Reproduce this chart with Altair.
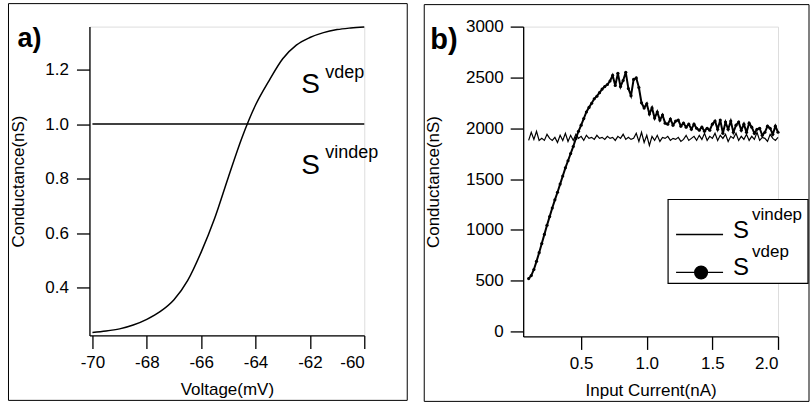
import altair as alt
import pandas as pd

# ---------------- data: panel a ----------------
voltage = [-70, -69.5, -69, -68.5, -68, -67.5, -67, -66.5, -66, -65.5, -65,
           -64.5, -64, -63.5, -63, -62.5, -62, -61.5, -61, -60.5, -60]
g_vdep_a = [0.235, 0.240, 0.248, 0.262, 0.283, 0.312, 0.355, 0.425, 0.53, 0.655, 0.805,
            0.95, 1.07, 1.16, 1.24, 1.29, 1.318, 1.336, 1.347, 1.353, 1.357]
voltage_flat = [-70, -60]
g_vindep_a = [1.0, 1.0]

# ---------------- data: panel b ----------------
current = [round(0.10 + 0.02 * i, 2) for i in range(96)]
g_vdep_b = [520, 550, 610, 690, 775, 865, 955, 1045, 1130, 1215,
            1295, 1370, 1450, 1530, 1610, 1680, 1750, 1820, 1900, 1970,
            2030, 2095, 2160, 2205, 2245, 2290, 2315, 2350, 2385, 2410,
            2430, 2465, 2520, 2420, 2540, 2410, 2470, 2550, 2390, 2320,
            2480, 2495, 2400, 2250, 2200, 2240, 2140, 2200, 2100, 2160,
            2080, 2130, 2050, 2040, 2090, 2030, 2070, 2080, 2020, 2050,
            2010, 2040, 1990, 2040, 2000, 1980, 2010, 1970, 2000, 1980,
            2040, 2070, 1990, 2080, 1950, 2060, 1990, 2070, 1960, 2030,
            2060, 1980, 2040, 1960, 2050, 2010, 1950, 1990, 2000, 1930,
            1960, 2020, 2000, 1940, 2020, 1960]
g_vindep_b = [1880, 1960, 1890, 1970, 1880, 1900, 1880, 1940, 1900, 1880,
              1910, 1860, 1930, 1880, 1950, 1870, 1930, 1880, 1940, 1900,
              1920, 1880, 1930, 1900, 1910, 1890, 1930, 1900, 1910, 1890,
              1920, 1900, 1910, 1880, 1920, 1900, 1940, 1890, 1910, 1890,
              1900, 1950, 1870, 1960, 1860, 1930, 1830, 1920, 1880, 1930,
              1870, 1910, 1900, 1920, 1880, 1900, 1890, 1910, 1870, 1890,
              1930, 1880, 1900, 1920, 1880, 1930, 1890, 1950, 1880, 1920,
              1900, 1950, 1880, 1930, 1900, 1940, 1870, 1920, 1900, 1950,
              1880, 1920, 1890, 1940, 1880, 1920, 1890, 1960, 1880, 1910,
              1900, 1870, 1940, 1900, 1880, 1910]

xticks_a = [-70, -68, -66, -64, -62, -60]
yticks_a = [0.4, 0.6, 0.8, 1.0, 1.2]
xticks_b = [0.5, 1.0, 1.5, 2.0]
yticks_b = [0, 500, 1000, 1500, 2000, 2500, 3000]

FONT = "Liberation Sans"
FS = 17

df_a = pd.DataFrame({"V": voltage, "G": g_vdep_a})
df_a2 = pd.DataFrame({"V": voltage_flat, "G": g_vindep_a})
df_b1 = pd.DataFrame({"I": current, "G": g_vdep_b})
df_b2 = pd.DataFrame({"I": current, "G": g_vindep_b})
one = pd.DataFrame({"k": [0]})

axis_common = dict(domainColor="black", domainWidth=1.3, tickColor="black", tickWidth=1.3,
                   tickSize=13, labelColor="black", titleColor="black", labelFont=FONT,
                   titleFont=FONT, labelFontSize=FS, titleFontSize=FS,
                   titleFontWeight="normal", grid=False)

# ---------------- panel a ----------------
WA, HA = 275, 309
xa = alt.X("V:Q", scale=alt.Scale(domain=[-70.11, -60], nice=False, zero=False),
           axis=alt.Axis(values=xticks_a, labelExpr="'' + datum.value", title="Voltage(mV)",
                         labelPadding=6, titlePadding=11, **axis_common))
ya = alt.Y("G:Q", scale=alt.Scale(domain=[0.224, 1.358], nice=False, zero=False),
           axis=alt.Axis(values=yticks_a, format=".1f", title="Conductance(nS)",
                         labelPadding=8, titlePadding=17, **axis_common))

curve_a = alt.Chart(df_a).mark_line(color="black", strokeWidth=1.5, interpolate="monotone").encode(x=xa, y=ya)
flat_a = alt.Chart(df_a2).mark_line(color="black", strokeWidth=1.5).encode(x="V:Q", y="G:Q")

frame_a = alt.Chart(one).mark_rect(fill="transparent", stroke="black", strokeWidth=1).encode(
    x=alt.value(-81), x2=alt.value(318), y=alt.value(-23), y2=alt.value(374))

def txt(s, x, y, size, weight="normal"):
    return alt.Chart(one).mark_text(text=s, align="left", baseline="alphabetic", font=FONT,
                                    fontSize=size, fontWeight=weight, color="black").encode(
        x=alt.value(x), y=alt.value(y))

labels_a = (txt("a)", -72, 20, 27, "bold")
            + txt("S", 212, 66, 28) + txt("vdep", 236, 51, 18)
            + txt("S", 212, 147, 28) + txt("vindep", 236, 131, 18))

panel_a = alt.layer(frame_a, curve_a, flat_a, labels_a).properties(width=WA, height=HA)

# ---------------- panel b ----------------
WB, HB = 255, 310
xb = alt.X("I:Q", scale=alt.Scale(domain=[0.0584, 2.0], nice=False, zero=False),
           axis=alt.Axis(values=xticks_b, format=".1f", title="Input Current(nA)",
                         labelPadding=6, titlePadding=11, **axis_common))
yb = alt.Y("G:Q", scale=alt.Scale(domain=[-49, 3000], nice=False, zero=False),
           axis=alt.Axis(values=yticks_b, format="d", title="Conductance(nS)", labelPadding=7,
                         titlePadding=23, **axis_common))

vindep_b = alt.Chart(df_b2).mark_line(color="black", strokeWidth=1.2).encode(x=xb, y=yb)
vdep_b = alt.Chart(df_b1).mark_line(color="black", strokeWidth=2,
                                    point=alt.OverlayMarkDef(size=10, filled=True, color="black")).encode(x=xb, y=yb)

frame_b = alt.Chart(one).mark_rect(fill="transparent", stroke="black", strokeWidth=1).encode(
    x=alt.value(-99), x2=alt.value(286), y=alt.value(-22), y2=alt.value(375))
legend_box = alt.Chart(one).mark_rect(fill="white", stroke="black", strokeWidth=1.2).encode(
    x=alt.value(145), x2=alt.value(285), y=alt.value(173), y2=alt.value(257))
leg_line1 = alt.Chart(one).mark_rule(color="black", strokeWidth=1.3).encode(
    x=alt.value(153), x2=alt.value(200), y=alt.value(208))
leg_line2 = alt.Chart(one).mark_rule(color="black", strokeWidth=1.3).encode(
    x=alt.value(153), x2=alt.value(200), y=alt.value(246))
leg_dot = alt.Chart(one).mark_point(filled=True, color="black", size=200, opacity=1).encode(
    x=alt.value(178), y=alt.value(246))
labels_b = (txt("b)", -93, 22, 29, "bold")
            + txt("S", 210, 212, 24) + txt("vindep", 229, 194, 17)
            + txt("S", 210, 249, 24) + txt("vdep", 229, 231, 17))

panel_b = alt.layer(frame_b, vindep_b, vdep_b, legend_box, leg_line1, leg_line2, leg_dot,
                    labels_b).properties(width=WB, height=HB)

chart = alt.hconcat(panel_a, panel_b, spacing=15).properties(
    padding={"left": 7.5, "top": 2.5, "right": 0, "bottom": 0}
).configure_view(stroke=None).configure(background="white")

chart.save("out.html", embed_options={"renderer": "svg", "actions": False})
